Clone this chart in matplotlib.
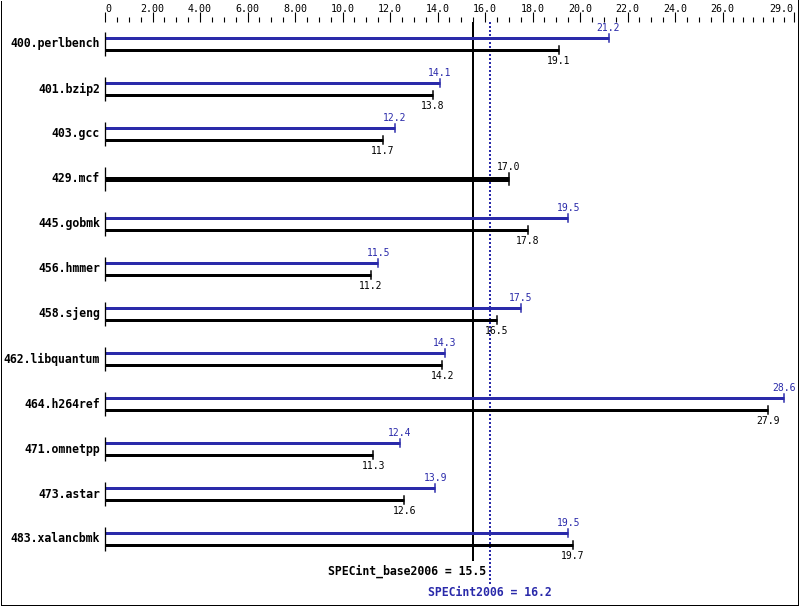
import matplotlib
matplotlib.use("Agg")
import matplotlib.pyplot as plt
import numpy as np
from matplotlib.lines import Line2D

benchmarks = ["400.perlbench", "401.bzip2", "403.gcc", "429.mcf", "445.gobmk",
              "456.hmmer", "458.sjeng", "462.libquantum", "464.h264ref",
              "471.omnetpp", "473.astar", "483.xalancbmk"]
peak = [21.2, 14.1, 12.2, None, 19.5, 11.5, 17.5, 14.3, 28.6, 12.4, 13.9, 19.5]
base = [19.1, 13.8, 11.7, 17.0, 17.8, 11.2, 16.5, 14.2, 27.9, 11.3, 12.6, 19.7]
base_score = 15.5
peak_score = 16.2
major_ticks = [0, 2, 4, 6, 8, 10, 12, 14, 16, 18, 20, 22, 24, 26, 29]
major_labels = ["0", "2.00", "4.00", "6.00", "8.00", "10.0", "12.0", "14.0",
                "16.0", "18.0", "20.0", "22.0", "24.0", "26.0", "29.0"]

BLUE = "#2a2aaa"
W, H = 799, 606
DPI = 100
PX_PER_UNIT = 23.75
X0_PX = 105
TOP_PX = 22

fig = plt.figure(figsize=(W / DPI, H / DPI), dpi=DPI)
ax = fig.add_axes([0, 0, 1, (H - TOP_PX) / H])
ax.set_xlim(-X0_PX / PX_PER_UNIT, (W - X0_PX) / PX_PER_UNIT)
ax.set_ylim(H, TOP_PX)
for s in ax.spines.values():
    s.set_visible(False)
ax.patch.set_visible(False)

mono = "DejaVu Sans Mono"

# top axis ticks
ax.xaxis.tick_top()
ax.set_xticks(major_ticks)
ax.set_xticklabels(major_labels, fontfamily=mono, fontsize=7.2)
labels = ax.get_xticklabels()
labels[-1].set_horizontalalignment("right")
labels[0].set_horizontalalignment("left")
minors = [v for v in np.arange(0, 26.01, 0.5) if v not in major_ticks]
minors += list(np.linspace(26, 29, 8)[1:-1])
ax.set_xticks(minors, minor=True)
ax.tick_params(axis="x", which="major", direction="out", length=7.2, width=0.8,
               pad=-1.8, color="black")
ax.tick_params(axis="x", which="minor", direction="out", length=3.6, width=0.8,
               color="black")
ax.set_yticks([])

lw_px = 72 / DPI
row0 = 44
step = 45

# reference lines
ax.plot([base_score, base_score], [TOP_PX, 561], color="black", lw=2 * lw_px,
        zorder=1, solid_capstyle="butt")
ax.plot([peak_score, peak_score], [TOP_PX, 584], color=BLUE, lw=2 * lw_px,
        linestyle=(0, (1, 1)), zorder=1, dash_capstyle="butt")

for i, name in enumerate(benchmarks):
    yc = row0 + step * i
    ax.text(-5 / PX_PER_UNIT, yc, name, ha="right", va="center",
            fontfamily=mono, fontweight="bold", fontsize=8.3)
    ax.plot([0, 0], [yc - 12, yc + 12], color="black", lw=1.3 * lw_px, zorder=3,
            solid_capstyle="butt")
    p, b = peak[i], base[i]
    if p is None:
        ax.plot([0, b], [yc, yc], color="black", lw=5 * lw_px, zorder=2,
                solid_capstyle="butt")
        ax.plot([b, b], [yc - 6, yc + 6], color="black", lw=1.5 * lw_px, zorder=2)
        ax.text(b, yc - 12, f"{b:.1f}", ha="center", va="center",
                fontfamily=mono, fontsize=7, color="black")
        continue
    yp, yb = yc - 6, yc + 6
    ax.plot([0, p], [yp, yp], color=BLUE, lw=3 * lw_px, zorder=2,
            solid_capstyle="butt")
    ax.plot([p, p], [yp - 4, yp + 4], color=BLUE, lw=1.5 * lw_px, zorder=2)
    ax.text(p, yp - 10, f"{p:.1f}", ha="center", va="center",
            fontfamily=mono, fontsize=7, color=BLUE)
    ax.plot([0, b], [yb, yb], color="black", lw=3 * lw_px, zorder=2,
            solid_capstyle="butt")
    ax.plot([b, b], [yb - 4, yb + 4], color="black", lw=1.5 * lw_px, zorder=2)
    ax.text(b, yb + 11, f"{b:.1f}", ha="center", va="center",
            fontfamily=mono, fontsize=7, color="black")

ax.annotate(f"SPECint_base2006 = {base_score:.1f}", xy=(base_score, 571),
            xytext=(9.5, 0), textcoords="offset points", ha="right", va="center",
            fontfamily=mono, fontweight="bold", fontsize=8.3, color="black")
ax.text(peak_score, 593, f"SPECint2006 = {peak_score:.1f}", ha="center",
        va="center", fontfamily=mono, fontweight="bold", fontsize=8.3, color=BLUE)

# outer frame (left, right, bottom)
fx = lambda px: px / W
fy = lambda py: 1 - py / H
fig.add_artist(Line2D([fx(0.5), fx(0.5)], [fy(1), fy(604.5)], color="black", lw=lw_px))
fig.add_artist(Line2D([fx(797.5), fx(797.5)], [fy(0), fy(604.5)], color="black", lw=lw_px))
fig.add_artist(Line2D([fx(0.5), fx(797.5)], [fy(604.5), fy(604.5)], color="black", lw=lw_px))

fig.savefig("out.png", dpi=DPI)
